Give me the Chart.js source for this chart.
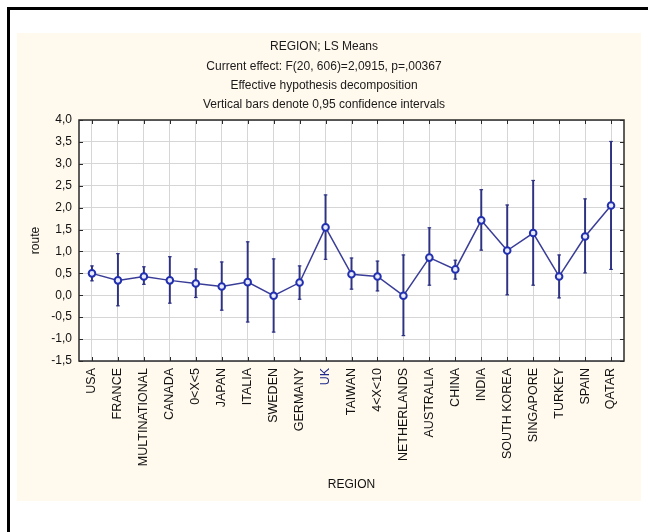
<!DOCTYPE html>
<html>
<head>
<meta charset="utf-8">
<script src="https://cdn.jsdelivr.net/npm/chart.js@4.4.1/dist/chart.umd.min.js"></script>
<style>
  html, body { margin: 0; padding: 0; background: #ffffff; width: 648px; height: 532px; overflow: hidden; }
  #frame { position: absolute; left: 7px; top: 7px; width: 660px; height: 540px;
           border-left: 3px solid #000; border-top: 3px solid #000; }
  #panel { position: absolute; left: 17px; top: 33px; width: 624px; height: 468px; background: #fff9ee; }
  canvas { display: block; }
</style>
</head>
<body>
<div id="frame"></div>
<div id="panel"><canvas id="c" width="624" height="468"></canvas></div>
<script>
// LS means of "route" by region with 95% confidence limits
const categories = ['USA', 'FRANCE', 'MULTINATIONAL', 'CANADA', '0<X<5', 'JAPAN', 'ITALIA', 'SWEDEN',
  'GERMANY', 'UK', 'TAIWAN', '4<X<10', 'NETHERLANDS', 'AUSTRALIA', 'CHINA', 'INDIA', 'SOUTH KOREA',
  'SINGAPORE', 'TURKEY', 'SPAIN', 'QATAR'];
const means = [0.50, 0.34, 0.43, 0.34, 0.27, 0.20, 0.30, -0.01, 0.29, 1.55, 0.48, 0.43, -0.01, 0.86,
  0.59, 1.71, 1.02, 1.42, 0.43, 1.34, 2.05];
const lower = [0.33, -0.24, 0.25, -0.18, -0.05, -0.34, -0.61, -0.84, -0.09, 0.82, 0.14, 0.10, -0.92, 0.23,
  0.37, 1.03, 0.01, 0.23, -0.06, 0.51, 0.59];
const upper = [0.67, 0.95, 0.65, 0.88, 0.60, 0.76, 1.22, 0.83, 0.67, 2.29, 0.85, 0.78, 0.92, 1.54,
  0.80, 2.41, 2.06, 2.62, 0.92, 2.20, 3.51];
const yMin = -1.5, yMax = 4.0, yStep = 0.5;
const titleLines = ['REGION; LS Means', 'Current effect: F(20, 606)=2,0915, p=,00367',
  'Effective hypothesis decomposition', 'Vertical bars denote 0,95 confidence intervals'];
const xTitle = 'REGION';
const yTitle = 'route';

const FONT = "'Liberation Sans', Arial, Helvetica, sans-serif";
const LINE = '#3a3d98';
const BAR = '#2e3282';
const GRID = '#d6d6d6';
const AXIS = '#2a2a2a';

const ciRanges = lower.map((lo, i) => [lo, upper[i]]);

// backgrounds, frame, inward ticks, CI caps and the stacked title
const decor = {
  id: 'decor',
  beforeDraw(chart) {
    const { ctx, chartArea: a } = chart;
    ctx.save();
    ctx.fillStyle = '#fff9ee';
    ctx.fillRect(0, 0, chart.width, chart.height);
    ctx.fillStyle = '#ffffff';
    ctx.fillRect(a.left, a.top, a.right - a.left, a.bottom - a.top);
    ctx.restore();
  },
  afterDatasetDraw(chart, args) {
    if (args.index !== 0) return;
    const { ctx } = chart;
    const meta = chart.getDatasetMeta(0);
    ctx.save();
    ctx.strokeStyle = BAR;
    ctx.lineWidth = 1.2;
    meta.data.forEach(el => {
      const { x, y, base } = el.getProps(['x', 'y', 'base'], true);
      [y, base].forEach(py => {
        ctx.beginPath();
        ctx.moveTo(x - 1.8, py);
        ctx.lineTo(x + 1.8, py);
        ctx.stroke();
      });
    });
    ctx.restore();
  },
  afterDraw(chart) {
    const { ctx, chartArea: a, scales: { x, y } } = chart;
    ctx.save();
    // plot frame
    ctx.strokeStyle = AXIS;
    ctx.lineWidth = 1.5;
    ctx.strokeRect(a.left, a.top, a.right - a.left, a.bottom - a.top);
    // inward tick marks on all four sides
    ctx.lineWidth = 1;
    const len = 4;
    ctx.beginPath();
    x.ticks.forEach((t, i) => {
      const px = Math.round(x.getPixelForTick(i)) + 0.5;
      ctx.moveTo(px, a.top); ctx.lineTo(px, a.top + len);
      ctx.moveTo(px, a.bottom); ctx.lineTo(px, a.bottom - len);
    });
    y.ticks.forEach((t, i) => {
      const py = Math.round(y.getPixelForTick(i)) + 0.5;
      ctx.moveTo(a.left, py); ctx.lineTo(a.left + len, py);
      ctx.moveTo(a.right, py); ctx.lineTo(a.right - len, py);
    });
    ctx.stroke();
    // title block
    ctx.fillStyle = '#1a1a1a';
    ctx.font = '12px ' + FONT;
    ctx.textAlign = 'center';
    ctx.textBaseline = 'middle';
    const cx = chart.width / 2 - 5;
    titleLines.forEach((s, i) => ctx.fillText(s, cx, 14 + i * 19.3));
    ctx.restore();
  }
};

new Chart(document.getElementById('c'), {
  data: {
    labels: categories,
    datasets: [
      {
        type: 'bar',
        data: ciRanges,
        backgroundColor: BAR,
        borderWidth: 0,
        barThickness: 1.3,
        order: 1
      },
      {
        type: 'line',
        data: means,
        borderColor: LINE,
        borderWidth: 1.5,
        tension: 0,
        pointRadius: 3.3,
        pointBorderWidth: 2,
        pointBorderColor: '#2230b0',
        pointBackgroundColor: '#e8ebff',
        order: 0
      }
    ]
  },
  plugins: [decor],
  options: {
    responsive: false,
    animation: false,
    devicePixelRatio: 1,
    layout: { padding: { top: 87, right: 17, left: 0, bottom: 0 } },
    plugins: { legend: { display: false }, tooltip: { enabled: false }, title: { display: false } },
    scales: {
      x: {
        type: 'category',
        offset: true,
        grid: { offset: false, color: GRID, lineWidth: 1, drawTicks: false },
        border: { display: false },
        ticks: {
          autoSkip: false,
          minRotation: 90,
          maxRotation: 90,
          padding: 7,
          color: ctx => (categories[ctx.index] === 'UK' ? '#1f2a8a' : '#111111'),
          font: { family: FONT, size: 12.5 }
        },
        title: {
          display: true,
          text: xTitle,
          color: '#111111',
          font: { family: FONT, size: 12 },
          padding: { top: 0, bottom: 9 }
        },
        afterFit(scale) { scale.height = 140; }
      },
      y: {
        min: yMin,
        max: yMax,
        grid: { color: GRID, lineWidth: 1, drawTicks: false },
        border: { display: false },
        ticks: {
          stepSize: yStep,
          padding: 7,
          color: '#111111',
          font: { family: FONT, size: 12 },
          callback: v => v.toFixed(1).replace('.', ',')
        },
        title: {
          display: true,
          text: yTitle,
          color: '#111111',
          font: { family: FONT, size: 12 },
          padding: { top: 11, bottom: 0 }
        },
        afterFit(scale) { scale.width = 62; }
      }
    }
  }
});
</script>
</body>
</html>
